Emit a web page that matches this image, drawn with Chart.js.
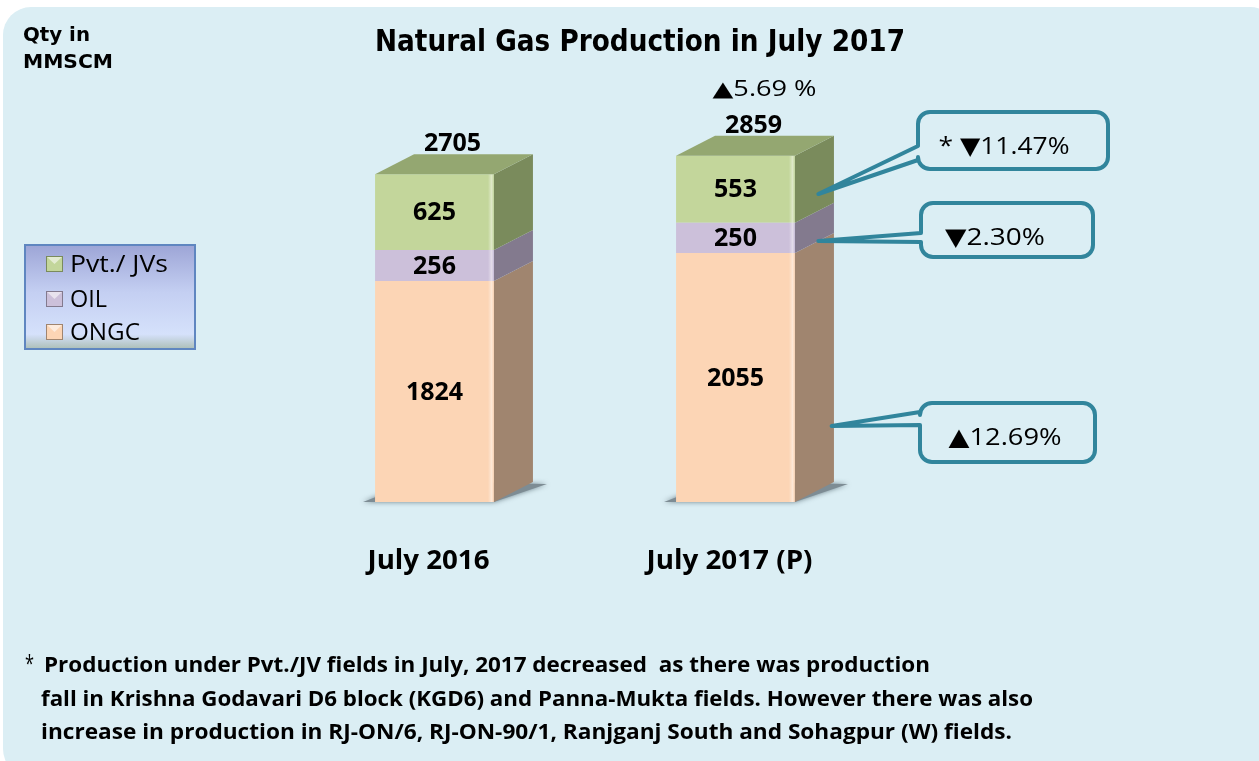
<!DOCTYPE html>
<html>
<head>
<meta charset="utf-8">
<title>Natural Gas Production in July 2017</title>
<script src="https://cdn.jsdelivr.net/npm/chart.js@4.4.0/dist/chart.umd.min.js"></script>
<style>
  html, body { margin:0; padding:0; background:#fff; }
  canvas { display:block; }
</style>
</head>
<body>
<canvas id="gasChart" width="1259" height="761"></canvas>
<script>
// ── Data ─────────────────────────────────────────────────────────────────
const periods     = ['July 2016', 'July 2017 (P)'];
const seriesNames = ['ONGC', 'OIL', 'Pvt./ JVs'];
const ongc        = [1824, 2055];
const oil         = [256, 250];
const pvt         = [625, 553];
const totals      = [2705, 2859];
const totalChange = '▲5.69 %';
const segChanges  = ['▲12.69%', '▼2.30%', '* ▼11.47%'];   // ONGC, OIL, Pvt
const footnote = [
  'Production under Pvt./JV fields in July, 2017 decreased  as there was production',
  'fall in Krishna Godavari D6 block (KGD6) and Panna-Mukta fields. However there was also',
  'increase in production in RJ-ON/6, RJ-ON-90/1, Ranjganj South and Sohagpur (W) fields.'
];

// ── Look ─────────────────────────────────────────────────────────────────
const BG = '#dbeef4';
const FACES = [
  { front:'#fcd5b5', side:'#a0856f', top:'#d4ae8e' },
  { front:'#ccc0da', side:'#837a8e', top:'#a99db8' },
  { front:'#c3d69b', side:'#7a8b5c', top:'#94a771' }
];
const DX = 39, DY = -20;           // depth of the 3D boxes
const SANS = '"Open Sans", "DejaVu Sans", sans-serif';

// text squeezed/stretched to a given width
function fitText(ctx, text, x, y, width, font, align) {
  ctx.save();
  ctx.font = font;
  const w = ctx.measureText(text).width;
  ctx.translate(x, y);
  ctx.scale(width / w, 1);
  ctx.textAlign = align || 'left';
  ctx.textBaseline = 'alphabetic';
  ctx.fillStyle = '#000';
  ctx.fillText(text, 0, 0);
  ctx.restore();
}

function roundRect(ctx, x, y, w, h, r) {
  ctx.beginPath();
  ctx.moveTo(x + r, y);
  ctx.arcTo(x + w, y, x + w, y + h, r);
  ctx.arcTo(x + w, y + h, x, y + h, r);
  ctx.arcTo(x, y + h, x, y, r);
  ctx.arcTo(x, y, x + w, y, r);
  ctx.closePath();
}

// ── Panel background ─────────────────────────────────────────────────────
const panelPlugin = {
  id: 'panel',
  beforeDraw(chart) {
    const c = chart.ctx;
    c.save();
    c.fillStyle = '#fff';
    c.fillRect(0, 0, chart.width, chart.height);
    roundRect(c, 3, 7, 1275, 770, 28);
    c.fillStyle = BG;
    c.fill();
    c.restore();
  }
};

// ── 3D boxes: floor shadow, sides, tops, labels ──────────────────────────
const cubePlugin = {
  id: 'cube',
  beforeDatasetsDraw(chart) {
    const c = chart.ctx;
    chart.getDatasetMeta(0).data.forEach(el => {
      const l = el.x - el.width / 2, r = el.x + el.width / 2, b = el.base;
      c.save();
      c.shadowColor = 'rgba(40,60,70,0.6)';
      c.shadowBlur = 5;
      c.fillStyle = '#7d8c94';
      c.beginPath();
      c.moveTo(l - 12, b);
      c.lineTo(r, b);
      c.lineTo(r + DX + 14, b + DY + 2);
      c.lineTo(l + DX, b + DY);
      c.closePath();
      c.fill();
      c.restore();
    });
  },
  afterDatasetsDraw(chart) {
    const c = chart.ctx;
    const last = chart.data.datasets.length - 1;
    chart.data.datasets.forEach((ds, d) => {
      chart.getDatasetMeta(d).data.forEach((el, i) => {
        const l = el.x - el.width / 2, r = el.x + el.width / 2;
        const t = el.y, b = el.base;
        // side face
        c.fillStyle = FACES[d].side;
        c.beginPath();
        c.moveTo(r, t); c.lineTo(r + DX, t + DY);
        c.lineTo(r + DX, b + DY); c.lineTo(r, b);
        c.closePath(); c.fill();
        // soft edge highlight on the front
        const g = c.createLinearGradient(r - 6, 0, r, 0);
        g.addColorStop(0, 'rgba(255,255,255,0)');
        g.addColorStop(0.6, 'rgba(255,255,255,0.45)');
        g.addColorStop(1, 'rgba(255,255,255,0)');
        c.fillStyle = g;
        c.fillRect(r - 6, t, 6, b - t);
        // top face on the highest segment
        if (d === last) {
          c.fillStyle = FACES[d].top;
          c.beginPath();
          c.moveTo(l, t); c.lineTo(l + DX, t + DY);
          c.lineTo(r + DX, t + DY); c.lineTo(r, t);
          c.closePath(); c.fill();
        }
        // segment value
        c.fillStyle = '#000';
        c.font = 'bold 25px ' + SANS;
        c.textAlign = 'center';
        c.textBaseline = 'middle';
        c.fillText(ds.data[i], el.x, (t + b) / 2 + 1);
      });
    });

    // totals over the boxes
    const top = chart.getDatasetMeta(last).data;
    top.forEach((el, i) => {
      c.fillStyle = '#000';
      c.font = 'bold 25px ' + SANS;
      c.textAlign = 'center';
      c.textBaseline = 'alphabetic';
      c.fillText(totals[i], el.x + 18, el.y + DY - 3);
    });
    const el2 = top[top.length - 1];
    fitText(c, totalChange, el2.x + 29, el2.y + DY - 40, 104, '21px ' + SANS, 'center');

    // category labels
    const xs = chart.scales.x;
    periods.forEach((p, i) => {
      fitText(c, p, xs.getPixelForValue(i) - 6, 569, i === 0 ? 122 : 166,
              'bold 26px ' + SANS, 'center');
    });
  }
};

// ── Callouts, legend, titles, footnote ───────────────────────────────────
const CALLOUTS = [
  { ds:2, box:[918, 112, 190, 57], base:[146, 160], f:0.6,  v:0.25, tx:1004, ty:154, tw:131 },
  { ds:1, box:[921, 203, 172, 54], base:[233, 242], f:0.6,  v:0.0,  tx:995,  ty:245, tw:100 },
  { ds:0, box:[920, 403, 175, 59], base:[412, 425], f:0.94, v:0.23, tx:1005, ty:445, tw:113 }
];

const annotPlugin = {
  id: 'annot',
  afterDraw(chart) {
    const c = chart.ctx;

    // callouts on the 2017 box
    CALLOUTS.forEach(co => {
      const el = chart.getDatasetMeta(co.ds).data[1];
      const r = el.x + el.width / 2;
      const tipX = r + co.f * DX;
      const tipY = el.base - co.v * (el.base - el.y) + co.f * DY;
      const [x, y, w, h] = co.box, rad = 12;
      c.save();
      c.beginPath();
      c.moveTo(x + rad, y);
      c.arcTo(x + w, y, x + w, y + h, rad);
      c.arcTo(x + w, y + h, x, y + h, rad);
      c.arcTo(x, y + h, x, y, rad);
      c.lineTo(x, co.base[1]);
      c.lineTo(tipX, tipY);
      c.lineTo(x, co.base[0]);
      c.arcTo(x, y, x + w, y, rad);
      c.closePath();
      c.fillStyle = BG;
      c.fill();
      c.lineWidth = 4;
      c.lineJoin = 'round';
      c.lineCap = 'round';
      c.strokeStyle = '#31859c';
      c.stroke();
      c.restore();
      fitText(c, segChanges[co.ds], co.tx, co.ty, co.tw, '24px ' + SANS, 'center');
    });

    // legend box
    c.save();
    const lg = c.createLinearGradient(0, 245, 0, 350);
    lg.addColorStop(0, '#9da5d6');
    lg.addColorStop(0.45, '#c4cff2');
    lg.addColorStop(0.85, '#d5e1fb');
    lg.addColorStop(1, '#a9bcb2');
    c.fillStyle = lg;
    c.fillRect(25, 245, 170, 104);
    c.strokeStyle = '#5f86c0';
    c.lineWidth = 2;
    c.strokeRect(25, 245, 170, 104);
    const order = [2, 1, 0];
    const base = [272, 307, 340];
    const widths = [98, 37, 70];
    order.forEach((d, k) => {
      const my = base[k] - 16, mx = 46;
      c.fillStyle = FACES[d].front;
      c.fillRect(mx, my, 17, 16);
      c.fillStyle = 'rgba(255,255,255,0.55)';
      c.beginPath();
      c.moveTo(mx, my); c.lineTo(mx + 17, my); c.lineTo(mx + 8.5, my + 8);
      c.closePath(); c.fill();
      c.strokeStyle = FACES[d].side;
      c.lineWidth = 1;
      c.strokeRect(mx + 0.5, my + 0.5, 16, 15);
      fitText(c, chart.data.datasets[d].label, 70, base[k], widths[k], '24px ' + SANS, 'left');
    });
    c.restore();

    // titles
    fitText(c, 'Natural Gas Production in July 2017', 640, 51, 530,
            'bold 30px "DejaVu Sans", sans-serif', 'center');
    fitText(c, 'Qty in', 23, 41, 67, 'bold 20px "DejaVu Sans", sans-serif', 'left');
    fitText(c, 'MMSCM', 23, 68, 90, 'bold 20px "DejaVu Sans", sans-serif', 'left');

    // footnote
    fitText(c, '*', 25, 672, 9, '24px ' + SANS, 'left');
    const fx = [44, 41, 41], fy = [672, 706, 739], fw = [886, 992, 971];
    footnote.forEach((line, i) => {
      fitText(c, line, fx[i], fy[i], fw[i], 'bold 22px ' + SANS, 'left');
    });
  }
};

// ── Chart ────────────────────────────────────────────────────────────────
const ctx = document.getElementById('gasChart').getContext('2d');
const mkSet = (name, data, d) => ({
  label: name, data,
  backgroundColor: FACES[d].front,
  borderWidth: 0,
  barPercentage: 0.395,
  categoryPercentage: 1
});

new Chart(ctx, {
  type: 'bar',
  data: {
    labels: periods,
    datasets: [
      mkSet(seriesNames[0], ongc, 0),
      mkSet(seriesNames[1], oil, 1),
      mkSet(seriesNames[2], pvt, 2)
    ]
  },
  options: {
    responsive: false,
    devicePixelRatio: 1,
    animation: false,
    layout: { padding: { left: 284, right: 1259 - 886, top: 78, bottom: 761 - 502 } },
    plugins: { legend: { display: false }, tooltip: { enabled: false } },
    scales: {
      x: { stacked: true, display: false },
      y: { stacked: true, display: false, min: 0, max: 3500 }
    }
  },
  plugins: [panelPlugin, cubePlugin, annotPlugin]
});
</script>
</body>
</html>
